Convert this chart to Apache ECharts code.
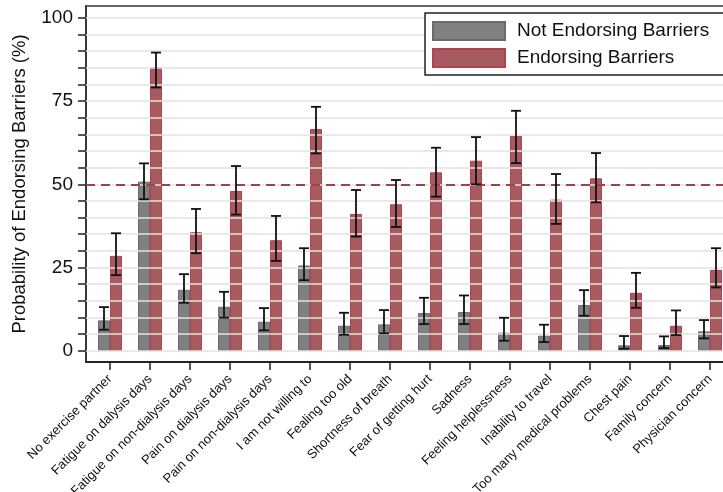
<!DOCTYPE html>
<html>
<head>
<meta charset="utf-8">
<script src="https://cdn.jsdelivr.net/npm/echarts@6/dist/echarts.min.js"></script>
<style>
  html, body { margin: 0; padding: 0; background: #fff; }
  #chart { width: 723px; height: 492px; }
</style>
</head>
<body>
<div id="chart"></div>
<script>
// Barrier categories along the x axis
const categories = [
  'No exercise partner', 'Fatigue on dalysis days', 'Fatigue on non-dialysis days',
  'Pain on dialysis days', 'Pain on non-dialysis days', 'I am not willing to',
  'Fealing too old', 'Shortness of breath', 'Fear of getting hurt', 'Sadness',
  'Feeling helplessness', 'Inability to travel', 'Too many medical problems',
  'Chest pain', 'Family concern', 'Physician concern'
];

// Probability (%) and 95% CI for participants not endorsing each barrier
const notEndorsing   = [9.1, 50.8, 18.3, 13.2, 8.7, 25.6, 7.5, 7.9, 11.3, 11.6, 5.4, 4.5, 13.7, 1.6, 1.7, 5.8];
const notEndorsingLo = [6.3, 45.5, 14.4, 9.9, 6.1, 21.2, 4.8, 5.2, 8.0, 8.0, 3.0, 2.6, 10.5, 0.6, 0.8, 3.7];
const notEndorsingHi = [13.1, 56.3, 23.0, 17.7, 12.8, 30.8, 11.4, 12.2, 15.9, 16.6, 9.9, 7.8, 18.2, 4.4, 4.3, 9.2];

// Probability (%) and 95% CI for participants endorsing each barrier
const endorsing   = [28.5, 85.1, 35.6, 48.0, 33.2, 66.6, 41.1, 44.0, 53.6, 57.1, 64.5, 45.4, 51.8, 17.4, 7.5, 24.3];
const endorsingLo = [22.7, 79.1, 29.3, 40.9, 27.0, 59.3, 34.3, 37.2, 46.3, 50.0, 56.4, 38.1, 44.6, 12.9, 4.7, 19.0];
const endorsingHi = [35.3, 89.6, 42.6, 55.5, 40.5, 73.3, 48.3, 51.3, 61.0, 64.2, 72.1, 53.1, 59.4, 23.4, 12.1, 30.8];

// Axis ticks
const yLabelTicks = [0, 25, 50, 75, 100];
const yMinorTicks = [0, 5, 10, 15, 20, 25, 30, 35, 40, 45, 50, 55, 60, 65, 70, 75, 80, 85, 90, 95, 100];
const referenceLevel = 50;

const FONT = '"Liberation Sans", Arial, sans-serif';
const BAR_W = 12;
const catIdx = categories.map((_, i) => i);

function errorBars(lo, hi, dx) {
  return {
    type: 'custom',
    z: 5,
    silent: true,
    data: catIdx.map(i => [i, lo[i], hi[i]]),
    renderItem: function (params, api) {
      const top = api.coord([api.value(0), api.value(2)]);
      const bot = api.coord([api.value(0), api.value(1)]);
      const x = top[0] + dx;
      const cap = 5;
      const style = { stroke: '#111', lineWidth: 1.8 };
      return {
        type: 'group',
        children: [
          { type: 'line', shape: { x1: x, y1: top[1], x2: x, y2: bot[1] }, style },
          { type: 'line', shape: { x1: x - cap, y1: top[1], x2: x + cap, y2: top[1] }, style },
          { type: 'line', shape: { x1: x - cap, y1: bot[1], x2: x + cap, y2: bot[1] }, style }
        ]
      };
    }
  };
}

const chart = echarts.init(document.getElementById('chart'), null, { renderer: 'canvas' });

const xRange = { min: -0.6, max: 15.325 };

chart.setOption({
  animation: false,
  backgroundColor: '#fff',
  textStyle: { fontFamily: FONT },
  grid: { left: 86, right: 0, top: 6, bottom: 130, containLabel: false, outerBoundsMode: 'none' },
  legend: {
    z: 20,
    orient: 'vertical',
    left: 425,
    top: 13,
    padding: [8, 120, 7, 7],
    itemWidth: 72,
    itemHeight: 18,
    itemGap: 7,
    icon: 'rect',
    borderColor: '#222',
    borderWidth: 1.5,
    borderRadius: 0,
    backgroundColor: '#fff',
    textStyle: { fontSize: 19, lineHeight: 18, color: '#111', fontFamily: FONT, padding: [1, 0, 0, 7] },
    data: ['Not Endorsing Barriers', 'Endorsing Barriers']
  },
  xAxis: [
    {
      type: 'value',
      position: 'bottom',
      min: xRange.min,
      max: xRange.max,
      splitLine: { show: false },
      axisLine: { show: true, onZero: false, lineStyle: { color: '#222', width: 2 } },
      axisTick: { show: true, length: 8, lineStyle: { color: '#222', width: 1.5 }, customValues: catIdx },
      axisLabel: {
        show: true,
        customValues: catIdx,
        rotate: 45,
        margin: 15,
        fontSize: 13,
        color: '#111',
        fontFamily: FONT,
        formatter: v => categories[Math.round(v)] || ''
      }
    },
    {
      type: 'value',
      position: 'top',
      min: xRange.min,
      max: xRange.max,
      splitLine: { show: false },
      axisLine: { show: true, onZero: false, lineStyle: { color: '#333', width: 1.5 } },
      axisTick: { show: false },
      axisLabel: { show: false }
    }
  ],
  yAxis: {
    type: 'value',
    position: 'left',
    min: -3.4,
    max: 103.6,
    name: 'Probability of Endorsing Barriers (%)',
    nameLocation: 'middle',
    nameGap: 57,
    nameTextStyle: { fontSize: 18.5, color: '#111', fontFamily: FONT },
    splitLine: { show: false },
    axisLine: { show: true, onZero: false, lineStyle: { color: '#222', width: 1.8 } },
    axisTick: { show: true, length: 8, lineStyle: { color: '#222', width: 1.5 }, customValues: yMinorTicks },
    axisLabel: { customValues: yLabelTicks, fontSize: 19, color: '#111', margin: 13, fontFamily: FONT }
  },
  series: [
    {
      // light horizontal gridlines and the 50% reference line
      type: 'line',
      data: [],
      z: 1,
      silent: true,
      markLine: {
        silent: true,
        symbol: 'none',
        label: { show: false },
        animation: false,
        data: yMinorTicks.map(v => ({ yAxis: v, lineStyle: { color: '#e2e2e2', width: 1.6, type: 'solid' } }))
          .concat([{ yAxis: referenceLevel, lineStyle: { color: '#a3414b', width: 1.8, type: [9, 6] } }])
      }
    },
    {
      name: 'Not Endorsing Barriers',
      type: 'bar',
      z: 2,
      barWidth: BAR_W,
      barGap: '0%',
      data: catIdx.map(i => [i, notEndorsing[i]]),
      itemStyle: { color: '#808080', borderColor: '#6a6a6a', borderWidth: 1 }
    },
    {
      name: 'Endorsing Barriers',
      type: 'bar',
      z: 2,
      barWidth: BAR_W,
      barGap: '0%',
      data: catIdx.map(i => [i, endorsing[i]]),
      itemStyle: { color: '#a65b61', borderColor: '#b5414e', borderWidth: 1 }
    },
    errorBars(notEndorsingLo, notEndorsingHi, -BAR_W / 2),
    errorBars(endorsingLo, endorsingHi, BAR_W / 2)
  ]
});
</script>
</body>
</html>
